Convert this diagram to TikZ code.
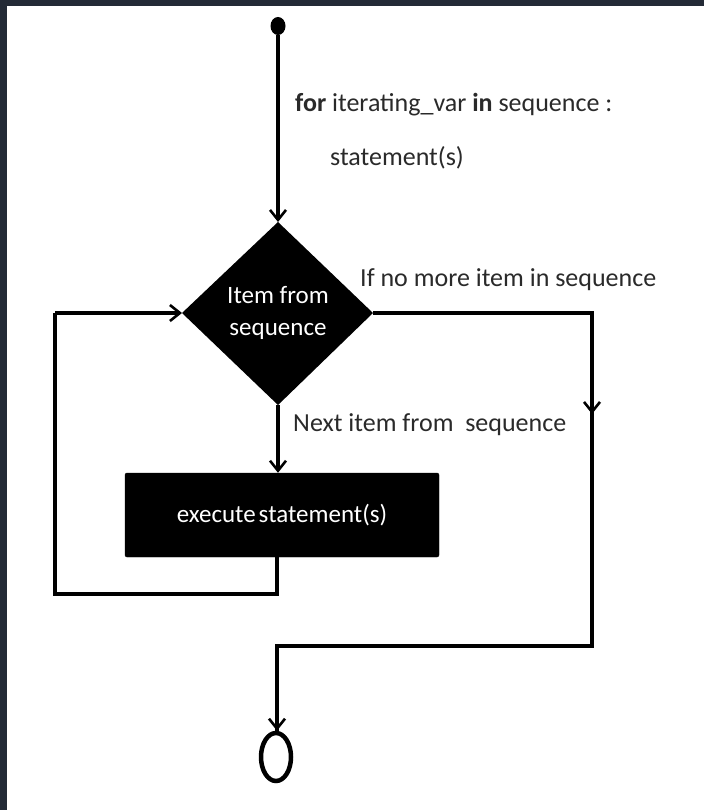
\documentclass[tikz,border=0pt]{standalone}
\usepackage{fontspec}
\setmainfont{Carlito}
\usetikzlibrary{arrows.meta,shapes.geometric}
\definecolor{frame}{HTML}{232A36}
\definecolor{txt}{HTML}{2A2A2A}
\begin{document}
\begin{tikzpicture}[x=1pt,y=-1pt,
  conn/.style={line width=3.2pt,draw=black},
  tip/.style={-{Straight Barb[length=10pt,width=16pt,line width=2.6pt]}},
  arr/.style={conn,tip},
  lbl/.style={text=txt,font=\fontsize{26}{30}\selectfont,anchor=west,inner sep=0pt},
  wlbl/.style={text=white,font=\fontsize{25}{30}\selectfont,inner sep=0pt,align=center},
  procbox/.style={fill=black,draw=black,rounded corners=2pt,minimum width=314pt,minimum height=84pt,inner sep=0pt}]
\useasboundingbox (0,0) rectangle (704,810);
\fill[white] (0,0) rectangle (704,810);
\fill[frame] (0,0) rectangle (704,6);
\fill[frame] (0,0) rectangle (7,810);
% start
\node[ellipse,fill=black,minimum width=15pt,minimum height=18pt,inner sep=0pt] (start) at (278,26) {};
% diamond
\coordinate (dT) at (278,222);
\coordinate (dL) at (182,313);
\coordinate (dR) at (373,313);
\coordinate (dB) at (278,405);
\fill[black] (dT) -- (dR) -- (dB) -- (dL) -- cycle;
\node[wlbl] (dtext) at (278,313) {Item from\\[2pt]sequence};
% process
\node[procbox] (proc) at (282,515) {};
\node[wlbl] (ptext) at (282,515) {execute\hspace{3pt}statement(s)};
% end
\node[ellipse,draw=black,line width=4.5pt,fill=white,minimum width=30pt,minimum height=48pt,inner sep=0pt] (stop) at (276,757) {};
% coordinates
\coordinate (rc1) at (592,313);
\coordinate (rc2) at (592,646);
\coordinate (rc3) at (277,646);
\coordinate (lc1) at (277,594);
\coordinate (lc2) at (55,594);
\coordinate (lc3) at (55,313);
% connectors
\draw[arr] (start) -- (dT);
\draw[arr] (dB) -- (proc.north -| dB);
\draw[conn,line join=miter] (dR) -- (rc1) -- (rc2) -- (rc3) -- (stop.north -| rc3);
\draw[conn,tip] (rc1) -- (592,414);
\draw[arr] (rc3) -- (stop.north -| rc3);
\draw[conn,line join=miter] (proc.south -| lc1) -- (lc1) -- (lc2) -- (lc3);
\draw[arr] (lc3) -- (dL);
% labels
\node[lbl] (forlbl) at (295,105) {\textbf{for} iterating\_var \textbf{in} sequence :};
\node[lbl] (stmt) at (330,158) {statement(s)};
\node[lbl] (nomore) at (360,280) {If no more item in sequence};
\node[lbl] (next) at (293,425) {Next item from\ \ sequence};
\end{tikzpicture}
\end{document}
